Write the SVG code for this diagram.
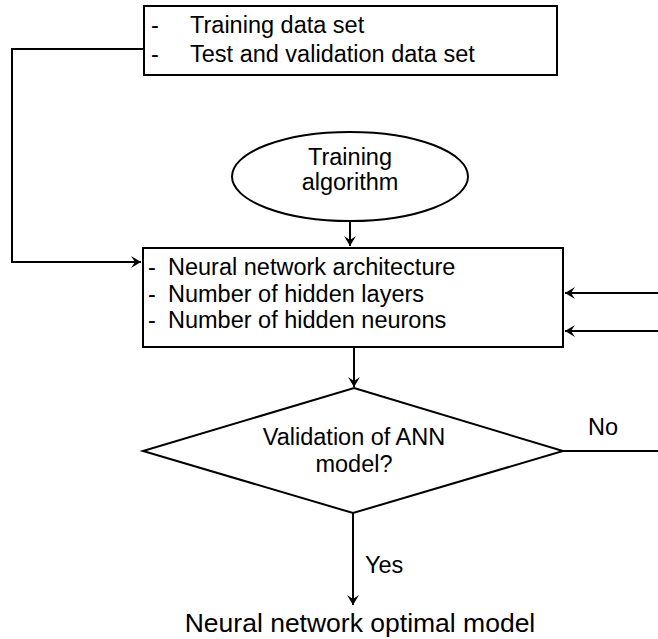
<svg xmlns="http://www.w3.org/2000/svg" width="658" height="639" viewBox="0 0 658 639">
<style>
.s{fill:#fff;stroke:#000;stroke-width:2}
.c{fill:none;stroke:#000;stroke-width:2}
text{font-family:"Liberation Sans",Arial,sans-serif;font-size:23.5px;fill:#000}
.m{text-anchor:middle}
</style>
<defs>
<marker id="a" markerWidth="12" markerHeight="12" refX="10" refY="6" orient="auto" markerUnits="userSpaceOnUse">
<path d="M0,0 L10,6 L0,12 L4,6 Z" fill="#000"/>
</marker>
</defs>
<g id="connectors">
<path class="c" d="M144,49 H12 V262 H141" marker-end="url(#a)"/>
<path class="c" d="M350,221 V246" marker-end="url(#a)"/>
<path class="c" d="M658,293 H565" marker-end="url(#a)"/>
<path class="c" d="M658,331 H565" marker-end="url(#a)"/>
<path class="c" d="M354,347 V387" marker-end="url(#a)"/>
<path class="c" d="M563,451 H658"/>
<path class="c" d="M353,513 V605" marker-end="url(#a)"/>
<text x="588" y="435">No</text>
<text x="365" y="573">Yes</text>
</g>
<g id="data">
<rect class="s" x="144" y="6" width="413" height="69"/>
<text x="151" y="33">-</text><text x="190" y="33">Training data set</text>
<text x="151" y="62">-</text><text x="190" y="62">Test and validation data set</text>
</g>
<g id="algorithm">
<ellipse class="s" cx="350" cy="176.5" rx="118" ry="44.5"/>
<text class="m" x="350" y="165">Training</text>
<text class="m" x="350" y="190">algorithm</text>
</g>
<g id="architecture">
<rect class="s" x="143" y="248" width="420" height="99"/>
<text x="148" y="275">-</text><text x="168" y="275">Neural network architecture</text>
<text x="148" y="302">-</text><text x="168" y="302">Number of hidden layers</text>
<text x="148" y="328">-</text><text x="168" y="328">Number of hidden neurons</text>
</g>
<g id="validation">
<polygon class="s" points="354,388 563,451 353,513 143,451"/>
<text class="m" x="354" y="445">Validation of ANN</text>
<text class="m" x="354" y="472">model?</text>
</g>
<g id="optimal">
<text class="m" x="360" y="632" style="font-size:26.5px">Neural network optimal model</text>
</g>
</svg>
